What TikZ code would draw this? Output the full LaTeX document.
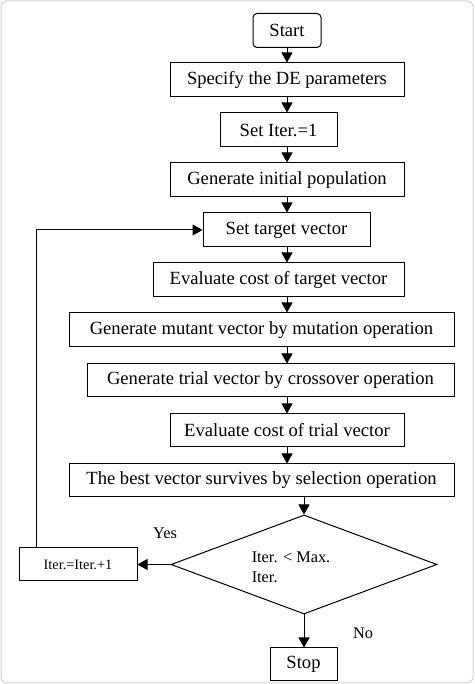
\documentclass[tikz,border=0pt]{standalone}
\usepackage{fontspec}
\setmainfont{Liberation Serif}
\usetikzlibrary{shapes.geometric,arrows.meta}

\begin{document}
\begin{tikzpicture}[x=1pt, y=1pt]
        \tikzstyle{every node}=[inner sep=0pt, font=\fontsize{18.6}{20}\selectfont]
        \tikzstyle{box}=[draw, line width=1pt, minimum height=34pt]
        \tikzstyle{term}=[box, rounded corners=4pt]
        \tikzstyle{arr}=[line width=1pt, -{Triangle[length=10pt, width=11pt]}]

        \useasboundingbox (0,0) rectangle (474,684);
        \draw[gray!35, line width=1pt, rounded corners=6pt] (1,1) rectangle (473,683);

        \node   (start)      [term, minimum width=68pt]  at (287,653.5) {Start};
        \node   (spec)       [box, minimum width=234pt]  at (287,604)   {Specify the DE parameters};
        \node   (iterone)    [box, minimum width=117pt]  at (278.5,554) {Set Iter.=1};
        \node   (init)       [box, minimum width=234pt]  at (287,504)   {Generate initial population};
        \node   (target)     [box, minimum width=167pt]  at (286.5,454) {Set target vector};
        \node   (evaltarget) [box, minimum width=251pt]  at (278.5,404) {Evaluate cost of target vector};
        \node   (mutant)     [box, minimum width=385pt]  at (261.5,354) {Generate mutant vector by mutation operation};
        \node   (trial)      [box, minimum width=367pt, minimum height=33pt] at (270.5,303.5) {Generate trial vector by crossover operation};
        \node   (evaltrial)  [box, minimum width=234pt, minimum height=33pt] at (287,253.5) {Evaluate cost of trial vector};
        \node   (best)       [box, minimum width=385pt, minimum height=33pt] at (261.5,203.5) {The best vector survives by selection operation};

        \node   (dec)        [draw, line width=1pt, diamond, aspect=2.7, minimum width=266pt, minimum height=99pt] at (304,119.5) {};
        \node   (dectext)    [align=left, font=\fontsize{16.3}{20}\selectfont] at (291,117) {Iter. < Max.\\Iter.};
        \node   (iterinc)    [box, minimum width=118pt, minimum height=33pt, font=\fontsize{14.3}{16}\selectfont] at (78,119.5) {Iter.=Iter.+1};
        \node   (stop)       [box, minimum width=67pt, minimum height=33pt] at (303.5,19.5) {Stop};

        \node   (yes)        [font=\fontsize{16.3}{18}\selectfont] at (165,151) {Yes};
        \node   (no)         [font=\fontsize{16.3}{18}\selectfont] at (363,51)  {No};

        % main column
        \draw[arr] (start) -- (spec);
        \draw[arr] (spec.south) -- (iterone.north -| spec.south);
        \draw[arr] (iterone.south -| spec.south) -- (init.north);
        \draw[arr] (init.south) -- (target.north -| init.south);
        \draw[arr] (target.south -| init.south) -- (evaltarget.north -| init.south);
        \draw[arr] (evaltarget.south -| init.south) -- (mutant.north -| init.south);
        \draw[arr] (mutant.south -| init.south) -- (trial.north -| init.south);
        \draw[arr] (trial.south -| init.south) -- (evaltrial.north);
        \draw[arr] (evaltrial.south) -- (best.north -| evaltrial.south);
        \draw[arr] (best.south -| dec.north) -- (dec.north);
        \draw[arr] (dec.south) -- (stop.north -| dec.south);

        % loop back
        \draw[arr] (dec.west) -- (iterinc.east);
        \draw[arr] ([xshift=-42pt]iterinc.north) |- (target.west);
    \end{tikzpicture}
\end{document}
